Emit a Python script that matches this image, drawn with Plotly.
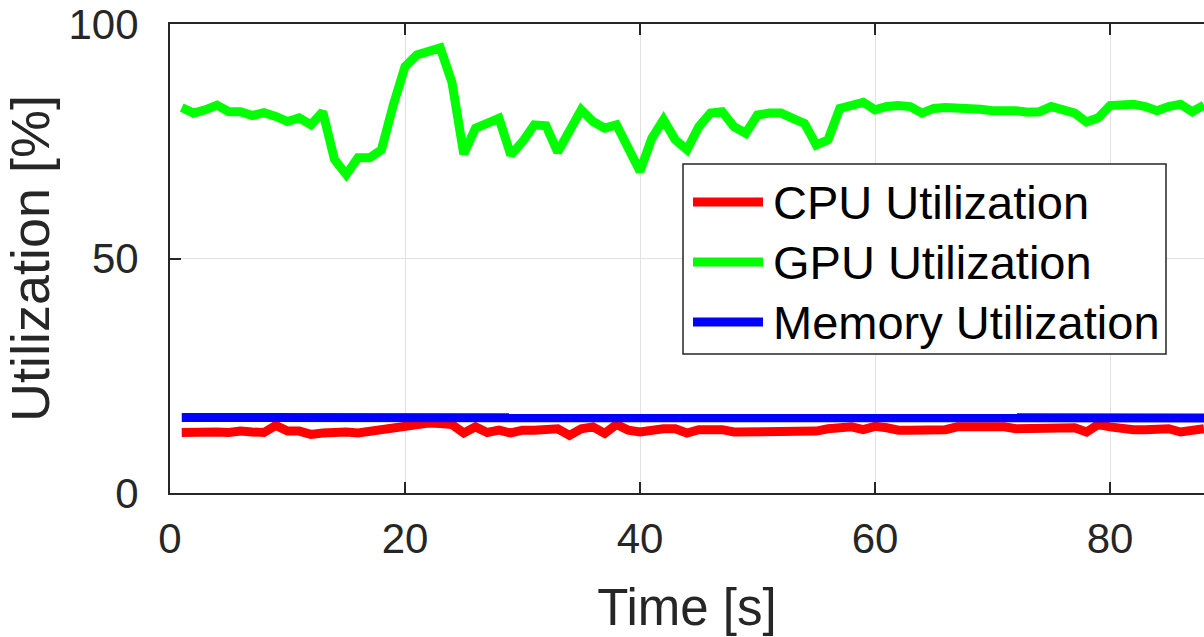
import plotly.graph_objects as go

# Sampling instants (seconds)
time_s = list(range(1, 89))

cpu_util = [12.9, 13.0, 13.2, 13.0, 12.9, 13.2, 13.0, 12.9, 14.4, 13.2,
            13.2, 12.5, 12.8, 13.0, 13.0, 12.8, 13.2, 13.5, 13.9, 14.3,
            14.6, 14.9, 14.8, 14.6, 12.8, 14.1, 12.9, 13.4, 12.8, 13.4,
            13.4, 13.5, 13.7, 12.3, 13.7, 14.1, 12.7, 14.6, 13.4, 13.0,
            13.4, 13.7, 13.7, 12.8, 13.5, 13.7, 13.5, 13.0, 13.0, 13.4,
            13.2, 13.0, 13.2, 13.2, 13.2, 13.7, 14.1, 14.1, 13.5, 14.2,
            13.9, 13.4, 13.4, 13.4, 13.4, 13.5, 14.1, 14.1, 14.2, 14.2,
            14.1, 13.7, 13.7, 13.7, 13.7, 13.7, 13.9, 13.0, 14.6, 14.1,
            13.7, 13.5, 13.5, 13.7, 13.7, 13.0, 13.5, 13.7]

gpu_util = [82.2, 81.0, 81.7, 82.7, 81.3, 81.3, 80.5, 81.1, 80.3, 79.2,
            80.0, 78.5, 81.3, 71.1, 67.9, 71.5, 71.5, 73.2, 82.7, 90.9,
            93.4, 94.1, 94.9, 87.5, 72.3, 77.8, 78.8, 79.9, 72.1, 74.9,
            78.5, 78.3, 72.7, 77.1, 81.7, 79.2, 77.8, 78.5, 73.9, 68.6,
            75.6, 79.6, 75.3, 73.2, 78.1, 81.0, 81.3, 78.1, 76.7, 80.6,
            81.0, 81.0, 79.9, 78.8, 74.2, 75.3, 82.0, 82.9, 83.3, 81.7,
            82.4, 82.6, 82.4, 81.0, 82.0, 82.2, 82.2, 82.0, 81.8, 81.5,
            81.7, 81.5, 81.2, 81.3, 82.4, 81.7, 81.0, 79.1, 80.0, 82.6,
            82.6, 82.9, 82.4, 81.5, 82.4, 82.9, 81.3, 82.7]

mem_util = [16.1] * 15 + [16.0] * 73

series_names = ["CPU Utilization", "GPU Utilization", "Memory Utilization"]
series_colors = ["#ff0000", "#00ff00", "#0000ff"]

x_ticks = [0, 20, 40, 60, 80]
y_ticks = [0, 50, 100]

FONT = "Liberation Sans, Arial, Helvetica, sans-serif"
AX = "#262626"
W, H = 1204, 637
ML, MR, MT, MB = 170, 0, 24, 144
LW = 9

fig = go.Figure()
for name, ys, col in zip(series_names, [cpu_util, gpu_util, mem_util], series_colors):
    fig.add_trace(go.Scatter(x=time_s, y=ys, mode="lines", name=name,
                             line=dict(color=col, width=LW), showlegend=False))

# Convert pixel positions inside the figure to paper coordinates
pw, ph = W - ML - MR, H - MT - MB
def px(x):
    return (x - ML) / pw
def py(y):
    return (H - MB - y) / ph

# Boxed legend with long line samples
shapes = [dict(type="rect", xref="paper", yref="paper",
               x0=px(683), x1=px(1166), y0=py(354), y1=py(164),
               line=dict(color=AX, width=1.5), fillcolor="white", layer="above")]
annotations = []
for i, (name, col) in enumerate(zip(series_names, series_colors)):
    yc = py(202 + 60 * i)
    shapes.append(dict(type="line", xref="paper", yref="paper",
                       x0=px(693), x1=px(763), y0=yc, y1=yc,
                       line=dict(color=col, width=LW), layer="above"))
    annotations.append(dict(xref="paper", yref="paper", x=px(771), y=yc,
                            xanchor="left", yanchor="middle", showarrow=False,
                            text=name, font=dict(family=FONT, size=47, color="black")))

fig.update_layout(
    width=W, height=H,
    margin=dict(l=ML, r=MR, t=MT, b=MB, pad=0),
    paper_bgcolor="white", plot_bgcolor="white",
    font=dict(family=FONT, color=AX),
    shapes=shapes, annotations=annotations,
    showlegend=False,
)
fig.update_xaxes(
    range=[0, 88], tickvals=x_ticks, ticktext=[str(v) for v in x_ticks],
    showline=True, linecolor=AX, linewidth=2, mirror="ticks",
    ticks="inside", ticklen=11, tickwidth=2, tickcolor=AX,
    showgrid=True, gridcolor="#e2e2e2", gridwidth=1, zeroline=False,
    tickfont=dict(size=42, color=AX), ticklabelstandoff=8,
    title=dict(text="Time [s]", font=dict(size=51, color=AX), standoff=28),
    automargin=False,
)
fig.update_yaxes(
    range=[0, 100], tickvals=y_ticks, ticktext=[str(v) for v in y_ticks],
    showline=True, linecolor=AX, linewidth=2, mirror=False,
    ticks="inside", ticklen=11, tickwidth=2, tickcolor=AX,
    showgrid=True, gridcolor="#e2e2e2", gridwidth=1, zeroline=False,
    tickfont=dict(size=42, color=AX), ticklabelstandoff=21,
    title=dict(text="Utilization [%]", font=dict(size=54, color=AX), standoff=4),
    automargin=False,
)

fig.write_html("out.html")
